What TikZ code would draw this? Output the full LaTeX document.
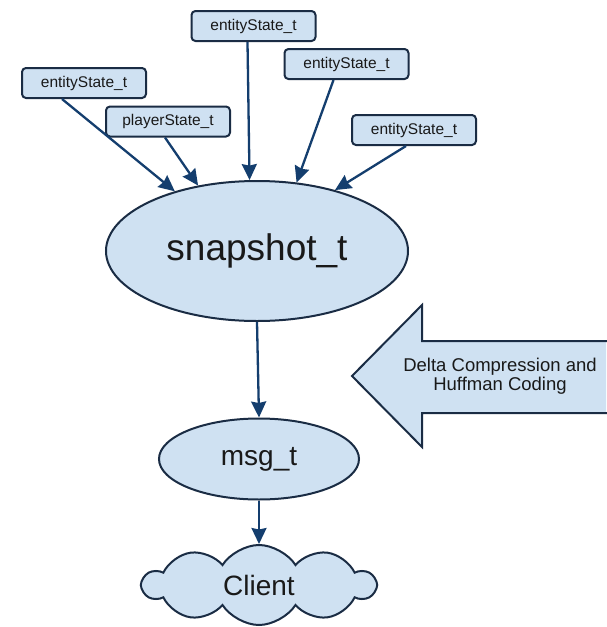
\documentclass[tikz,border=0pt]{standalone}
\usepackage{fontspec}
\setmainfont{Liberation Sans}
\usetikzlibrary{arrows.meta,shapes.geometric,shapes.symbols}
\definecolor{paleblue}{RGB}{207,225,242}
\definecolor{edgenavy}{RGB}{26,44,68}
\definecolor{linkblue}{RGB}{20,62,110}
\definecolor{inktext}{RGB}{25,25,25}
\tikzset{
  statebox/.style={draw=edgenavy, fill=paleblue, line width=2pt, rounded corners=4pt,
    minimum width=124pt, minimum height=30pt, inner sep=0pt, text=inktext,
    font=\fontsize{15.5}{18}\selectfont},
  bubble/.style={ellipse, draw=edgenavy, fill=paleblue, line width=2pt, inner sep=0pt, text=inktext},
  link/.style={draw=linkblue, line width=2.3pt, -{Stealth[length=16pt,width=15pt,inset=1.5pt]}},
}
\begin{document}
\begin{tikzpicture}[x=1pt,y=-1pt]
\useasboundingbox (0,0) rectangle (606,627);
\fill[white] (0,0) rectangle (606,627);

% state records feeding the snapshot
\node[statebox] (esTop)   at (253.5,26)  {entityState\_t};
\node[statebox] (esMid)   at (346.5,64)  {entityState\_t};
\node[statebox] (esRight) at (414,130)   {entityState\_t};
\node[statebox] (esLeft)  at (84,83)     {entityState\_t};
\node[statebox] (player)  at (168,121.5) {playerState\_t};

% snapshot and message
\node[bubble, minimum width=302pt, minimum height=140pt, font=\fontsize{37}{40}\selectfont]
  (snap) at (257,251) {snapshot\_t};
\node[bubble, minimum width=200pt, minimum height=81pt, font=\fontsize{28}{32}\selectfont]
  (msg) at (259,459) {msg\_t};
\node[cloud, cloud puffs=10, cloud puff arc=115, aspect=2.5, draw=edgenavy, fill=paleblue,
  line width=2pt, minimum width=232pt, minimum height=80pt, inner sep=0pt, text=inktext,
  font=\fontsize{28}{32}\selectfont] (client) at (259,585) {Client};

% connectors into the snapshot
\draw[link] ([xshift=-22pt]esLeft.south) -- (snap.144);
\draw[link] ([xshift=-3pt]player.south)  -- (snap.132);
\draw[link] ([xshift=-6pt]esTop.south)   -- (snap.96);
\draw[link] ([xshift=-13pt]esMid.south)  -- (snap.60);
\draw[link] ([xshift=-8pt]esRight.south) -- (snap.38);

% pipeline
\draw[link] (snap.south) -- (msg.north);
\draw[link] (msg.south) -- (client.north);

% compression block arrow, running off the right edge
\coordinate (tipA) at (352,376);
\fill[paleblue] (606,341) -- (422,341) -- (422,305) -- (tipA) -- (422,447) -- (422,413) -- (606,413) -- cycle;
\draw[edgenavy, line width=2pt, line join=miter] (607,341) -- (422,341) -- (422,305) -- (tipA) -- (422,447) -- (422,413) -- (607,413);
\node[align=center, text=inktext, font=\fontsize{18.5}{19.5}\selectfont] (deltaText) at (500,376)
  {Delta Compression and\\Huffman Coding};
\end{tikzpicture}
\end{document}
